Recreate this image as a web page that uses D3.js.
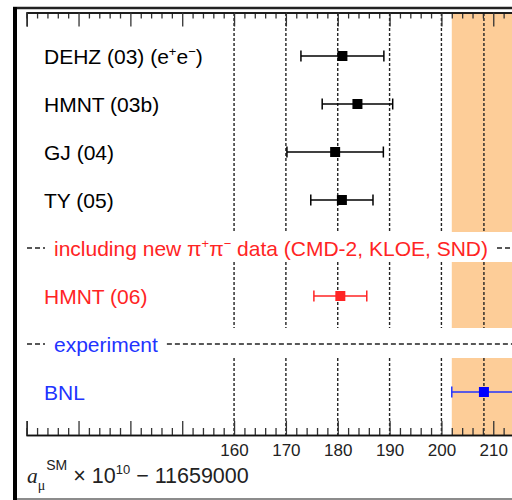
<!DOCTYPE html>
<html><head><meta charset="utf-8">
<script src="https://cdn.jsdelivr.net/npm/d3@7"></script>
<style>
html,body{margin:0;padding:0;background:#fff;}
svg{display:block;font-family:"Liberation Sans",Arial,sans-serif;}
</style></head>
<body><svg id="chart" width="512" height="500"></svg>
<script>
// ---- data ----
const rowKeys = ["DEHZ03", "HMNT03b", "GJ04", "TY05", "secNew", "HMNT06", "secExp", "BNL"];
const measNames = ["DEHZ (03)", "HMNT (03b)", "GJ (04)", "TY (05)", "HMNT (06)", "BNL"];
const measRows = ["DEHZ03", "HMNT03b", "GJ04", "TY05", "HMNT06", "BNL"];
const measValues = [180.9, 183.8, 179.5, 180.8, 180.5, 208.2];
const measErrors = [8.0, 6.8, 9.3, 6.0, 5.1, 6.2];
const measGroups = ["old", "old", "old", "old", "new", "exp"];
const sectionRows = ["secNew", "secExp"];
const sectionGroups = ["new", "exp"];
const gridValues = [160, 170, 180, 190, 200];
const tickLabelValues = [160, 170, 180, 190, 200, 210];
const bandCenter = 208.2, bandHalf = 6.2;

const colors = {old: "#000000", new: "#ff2424", exp: "#2233ff"};

const svg = d3.select("#chart");
const W = 512, H = 500;
const x = d3.scaleLinear().domain([120, 220]).range([26.7, 26.7 + 100 * 5.184]);
const y = d3.scalePoint().domain(rowKeys).range([56, 392]);

const axisTopY = 12.5, axisBotY = 435;
const gapHalf = 16;
// vertical segments interrupted at section rows
const segs = [];
{
  let start = axisTopY + 0.5;
  sectionRows.forEach(r => { segs.push([start, y(r) - gapHalf]); start = y(r) + gapHalf - 2; });
  segs.push([start, axisBotY]);
}

// band
svg.append("g").selectAll("rect").data(segs).join("rect")
  .attr("x", x(bandCenter - bandHalf)).attr("width", x(bandCenter + bandHalf) - x(bandCenter - bandHalf))
  .attr("y", d => d[0]).attr("height", d => d[1] - d[0])
  .attr("fill", "#fdcd98");

// dashed grid lines
const gridAll = gridValues.concat([bandCenter]);
const gg = svg.append("g");
gridAll.forEach(v => {
  gg.selectAll(null).data(segs).join("line")
    .attr("x1", x(v)).attr("x2", x(v)).attr("y1", d => d[0]).attr("y2", d => d[1])
    .attr("stroke", "#222").attr("stroke-width", 1.4).attr("stroke-dasharray", "3,2");
});

// axes
function styleAxis(g) {
  g.select(".domain").attr("stroke", "#111").attr("stroke-width", 1.5);
  g.selectAll(".tick line").attr("stroke", "#333").attr("stroke-width", 1.3);
}
const minorTicks = d3.range(120, 216, 2).filter(v => v % 10 !== 0);
const majorTicks = d3.range(120, 216, 10);

svg.append("g").attr("transform", `translate(0,${axisTopY})`)
  .call(d3.axisTop(x).tickValues(minorTicks).tickSize(-6).tickFormat(""))
  .call(styleAxis);
svg.append("g").attr("transform", `translate(0,${axisTopY})`)
  .call(d3.axisTop(x).tickValues(majorTicks).tickSize(-14).tickFormat(""))
  .call(styleAxis);
svg.append("g").attr("transform", `translate(0,${axisBotY})`)
  .call(d3.axisBottom(x).tickValues(minorTicks).tickSize(-7).tickFormat(""))
  .call(styleAxis);
const bx = svg.append("g").attr("transform", `translate(0,${axisBotY})`)
  .call(d3.axisBottom(x).tickValues(majorTicks).tickSize(-14).tickPadding(9)
    .tickFormat(d => tickLabelValues.includes(d) ? d3.format("d")(d) : ""))
  .call(styleAxis);
bx.selectAll(".tick text").attr("font-size", 17).attr("fill", "#222")
  .attr("font-family", "Liberation Sans, Arial, sans-serif");

// frame
svg.append("line").attr("x1", 13).attr("x2", W).attr("y1", 8).attr("y2", 8).attr("stroke", "#222").attr("stroke-width", 2.5);
svg.append("line").attr("x1", 13).attr("x2", W).attr("y1", 499).attr("y2", 499).attr("stroke", "#666").attr("stroke-width", 1.5);
svg.append("line").attr("x1", 15).attr("x2", 15).attr("y1", 7).attr("y2", H).attr("stroke", "#000").attr("stroke-width", 4);

// measurements
const meas = measNames.map((n, i) => ({name: n, row: measRows[i], v: measValues[i], e: measErrors[i], g: measGroups[i]}));
const mg = svg.append("g").selectAll("g").data(meas).join("g")
  .attr("transform", d => `translate(0,${y(d.row)})`);
mg.append("line").attr("x1", d => x(d.v - d.e)).attr("x2", d => x(d.v + d.e))
  .attr("stroke", d => colors[d.g]).attr("stroke-width", 1.5);
mg.append("line").attr("x1", d => x(d.v - d.e)).attr("x2", d => x(d.v - d.e)).attr("y1", -5.5).attr("y2", 5.5)
  .attr("stroke", d => colors[d.g]).attr("stroke-width", 1.5);
mg.append("line").attr("x1", d => x(d.v + d.e)).attr("x2", d => x(d.v + d.e)).attr("y1", -5.5).attr("y2", 5.5)
  .attr("stroke", d => colors[d.g]).attr("stroke-width", 1.5);
mg.append("rect").attr("x", d => x(d.v) - 5).attr("y", -5).attr("width", 10).attr("height", 10)
  .attr("fill", d => d.g === "exp" ? "#0000ff" : colors[d.g]);

// labels
const labelSize = 21;
mg.each(function (d) {
  const t = d3.select(this).append("text").attr("x", 44).attr("y", 0).attr("dy", "0.36em")
    .attr("font-size", labelSize).attr("fill", colors[d.g]);
  if (d.row === "DEHZ03") {
    t.append("tspan").text(d.name + " (e");
    t.append("tspan").attr("dy", -8).attr("font-size", 13).text("+");
    t.append("tspan").attr("dy", 8).text("e");
    t.append("tspan").attr("dy", -8).attr("font-size", 13).text("\u2212");
    t.append("tspan").attr("dy", 8).text(")");
  } else {
    t.text(d.name);
  }
});

// section rows
sectionRows.forEach((r, i) => {
  const g = svg.append("g").attr("transform", `translate(0,${y(r)})`);
  const c = colors[sectionGroups[i]];
  g.append("line").attr("x1", 27).attr("x2", 45).attr("stroke", "#222").attr("stroke-width", 1.3).attr("stroke-dasharray", "5,3");
  const t = g.append("text").attr("x", 54).attr("dy", "0.36em").attr("font-size", labelSize).attr("fill", c);
  if (sectionGroups[i] === "new") {
    t.append("tspan").text("including new \u03c0");
    t.append("tspan").attr("dy", -8).attr("font-size", 13).text("+");
    t.append("tspan").attr("dy", 8).text("\u03c0");
    t.append("tspan").attr("dy", -8).attr("font-size", 13).text("\u2212");
    t.append("tspan").attr("dy", 8).text(" data (CMD-2, KLOE, SND)");
  } else {
    t.text("experiment");
  }
  const end = 54 + t.node().getComputedTextLength();
  g.append("line").attr("x1", end + 9).attr("x2", W).attr("stroke", "#222").attr("stroke-width", 1.3).attr("stroke-dasharray", "5,3");
});

// x title
const tt = svg.append("text").attr("x", 27).attr("y", 483).attr("font-size", 21.5).attr("fill", "#222");
tt.append("tspan").attr("font-family", "Liberation Serif, Times New Roman, serif").attr("font-style", "italic").text("a");
tt.append("tspan").attr("font-family", "Liberation Serif, serif").attr("font-size", 14).attr("dy", 7).text("\u03bc");
tt.append("tspan").attr("font-size", 14).attr("dy", -20).attr("dx", 1).text("SM");
tt.append("tspan").attr("dy", 13).text(" \u00d7 10");
tt.append("tspan").attr("font-size", 13).attr("dy", -9).text("10");
tt.append("tspan").attr("dy", 9).text(" \u2212 11659000");
</script></body></html>
